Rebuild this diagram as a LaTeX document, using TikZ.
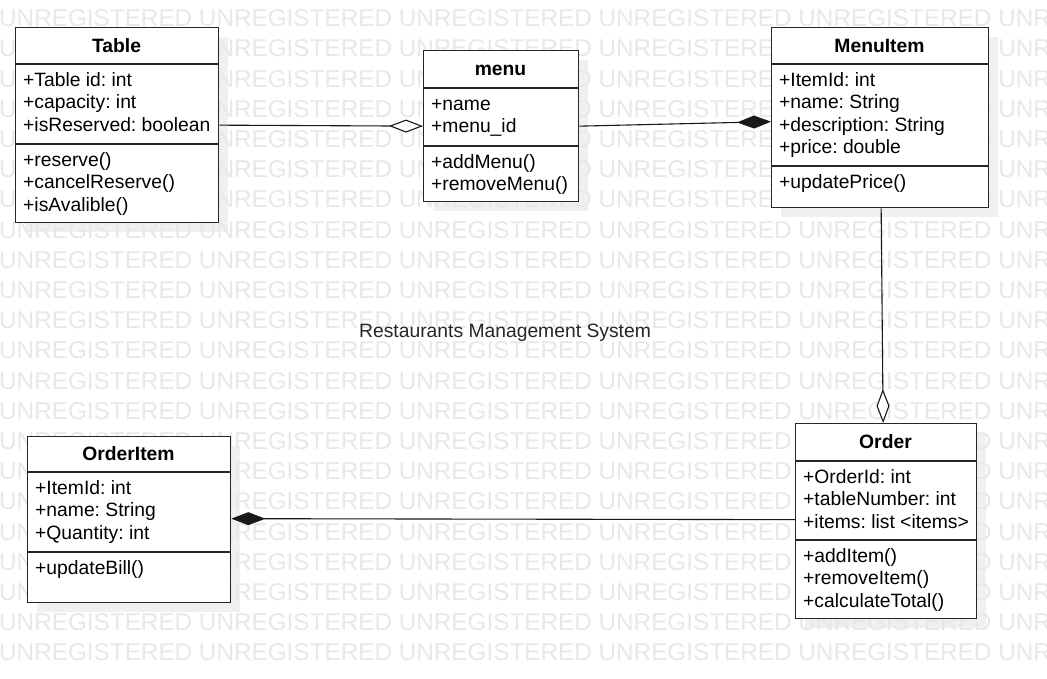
\documentclass[tikz,border=0pt]{standalone}
\usepackage{fontspec}
\setmainfont{Liberation Sans}
\usetikzlibrary{arrows.meta}
\frenchspacing
\begin{document}
\begin{tikzpicture}[x=1pt,y=1pt,
  box/.style={draw=black!85, line width=1.3pt, fill=white, inner sep=0pt, anchor=north west},
  shadowbox/.style={fill=black!6, draw=none},
  sepline/.style={draw=black!85, line width=1.3pt},
  ttl/.style={font=\fontsize{19.3}{22.5}\selectfont\bfseries, anchor=base, inner sep=0pt},
  txt/.style={font=\fontsize{19.3}{22.5}\selectfont, anchor=base west, inner sep=0pt},
  wm/.style={font=\fontsize{24.3}{30}\selectfont, text=black!9, anchor=base west, inner sep=0pt},
  conn/.style={draw=black!90, line width=1.1pt},
  agg/.style={conn, -{Diamond[open, fill=white, length=34pt, width=13pt, line width=1.1pt]}},
  comp/.style={conn, -{Diamond[length=34pt, width=13pt]}}
]
\useasboundingbox (0,0) rectangle (1047,-678);
\fill[white] (0,0) rectangle (1047,-678);

% shadows
\fill[black!6] (25,-37) rectangle (228,-232);
\fill[black!6] (433,-60) rectangle (588,-211);
\fill[black!6] (781,-37) rectangle (998,-217);
\fill[black!6] (37,-446) rectangle (240,-612);
\fill[black!6] (805,-433) rectangle (986,-628);

% watermark
\begin{scope}
\clip (0,0) rectangle (1047,-678);
\foreach \r in {0,...,21}{
  \node[wm] (wm\r) at (-1,{-(18+30.2*\r+8.7)}) {UNREGISTERED UNREGISTERED UNREGISTERED UNREGISTERED UNREGISTERED UNREGISTERED};
}
\end{scope}

% ---- Table
\node[box, minimum width=203pt, minimum height=195pt] (table) at (15,-27) {};
\draw[sepline] (table.west |- 0,-64) -- (table.east |- 0,-64);
\draw[sepline] (table.west |- 0,-144) -- (table.east |- 0,-144);
\node[ttl] (tablet) at (116.5,-52) {Table};
\node[txt] (ta1) at (23,-86) {+Table id: int};
\node[txt] (ta2) at (23,-108.5) {+capacity: int};
\node[txt] (ta3) at (23,-131) {+isReserved: boolean};
\node[txt] (tm1) at (23,-166) {+reserve()};
\node[txt] (tm2) at (23,-188.5) {+cancelReserve()};
\node[txt] (tm3) at (23,-211) {+isAvalible()};

% ---- menu
\node[box, minimum width=155pt, minimum height=151pt] (menu) at (423,-50) {};
\draw[sepline] (menu.west |- 0,-88) -- (menu.east |- 0,-88);
\draw[sepline] (menu.west |- 0,-146) -- (menu.east |- 0,-146);
\node[ttl] (menut) at (500.5,-75) {menu};
\node[txt] (ma1) at (431,-110) {+name};
\node[txt] (ma2) at (431,-132.5) {+menu\_id};
\node[txt] (mm1) at (431,-168) {+addMenu()};
\node[txt] (mm2) at (431,-190.5) {+removeMenu()};

% ---- MenuItem
\node[box, minimum width=217pt, minimum height=180pt] (menuitem) at (771,-27) {};
\draw[sepline] (menuitem.west |- 0,-64) -- (menuitem.east |- 0,-64);
\draw[sepline] (menuitem.west |- 0,-166) -- (menuitem.east |- 0,-166);
\node[ttl] (menuitemt) at (879.5,-52) {MenuItem};
\node[txt] (ia1) at (779,-86) {+ItemId: int};
\node[txt] (ia2) at (779,-108.5) {+name: String};
\node[txt] (ia3) at (779,-131) {+description: String};
\node[txt] (ia4) at (779,-153.5) {+price: double};
\node[txt] (im1) at (779,-188) {+updatePrice()};

% ---- OrderItem
\node[box, minimum width=203pt, minimum height=166pt] (orderitem) at (27,-436) {};
\draw[sepline] (orderitem.west |- 0,-472) -- (orderitem.east |- 0,-472);
\draw[sepline] (orderitem.west |- 0,-552) -- (orderitem.east |- 0,-552);
\node[ttl] (orderitemt) at (128.5,-460) {OrderItem};
\node[txt] (oa1) at (35,-494) {+ItemId: int};
\node[txt] (oa2) at (35,-516.5) {+name: String};
\node[txt] (oa3) at (35,-539) {+Quantity: int};
\node[txt] (om1) at (35,-574) {+updateBill()};

% ---- Order
\node[box, minimum width=181pt, minimum height=195pt] (order) at (795,-423) {};
\draw[sepline] (order.west |- 0,-461) -- (order.east |- 0,-461);
\draw[sepline] (order.west |- 0,-540) -- (order.east |- 0,-540);
\node[ttl] (ordert) at (885.5,-448) {Order};
\node[txt] (ra1) at (803,-483) {+OrderId: int};
\node[txt] (ra2) at (803,-505.5) {+tableNumber: int};
\node[txt] (ra3) at (803,-528) {+items: list <items>};
\node[txt] (rm1) at (803,-562) {+addItem()};
\node[txt] (rm2) at (803,-584.5) {+removeItem()};
\node[txt] (rm3) at (803,-607) {+calculateTotal()};

% ---- caption
\node[font=\fontsize{19.3}{22.5}\selectfont, text=black!85, inner sep=0pt, anchor=base] (caption) at (505,-337) {Restaurants Management System};

% ---- connectors
\draw[agg] (table.east) -- (menu.west);
\draw[comp] (menu.east) -- ([yshift=-4pt]menuitem.west);
\draw[agg] ([xshift=1pt]menuitem.south) -- ([xshift=-3pt]order.north);
\draw[comp] ([yshift=1.5pt]order.west) -- ([yshift=1pt]orderitem.east);
\end{tikzpicture}
\end{document}
